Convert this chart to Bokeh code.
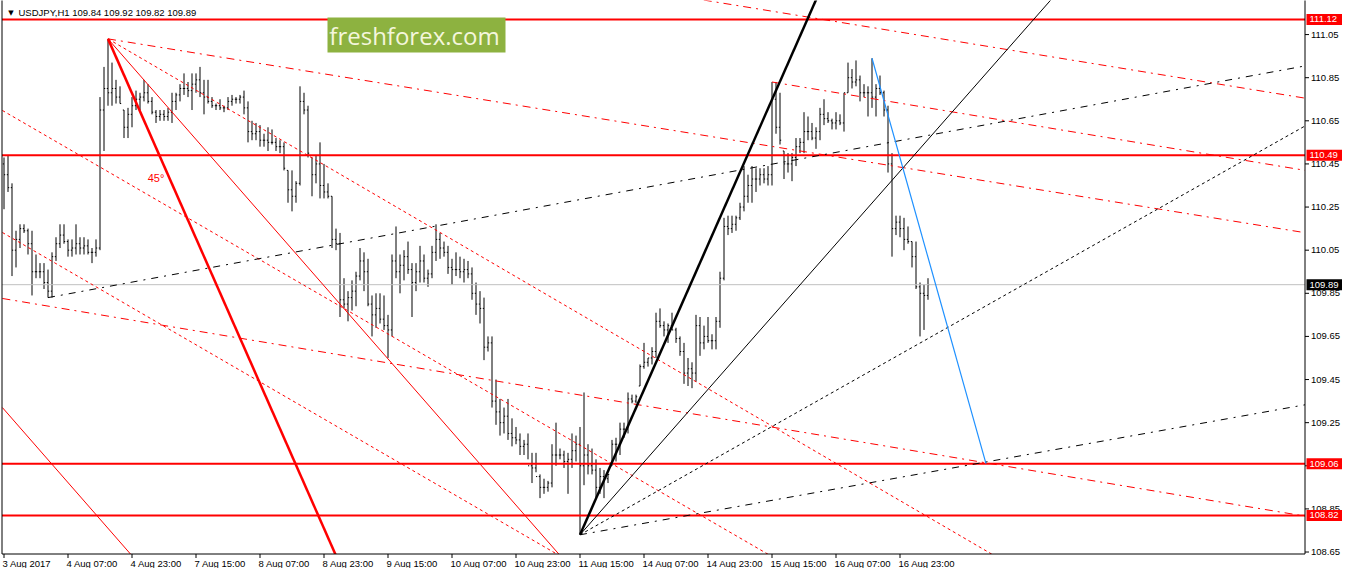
from bokeh.plotting import figure
from bokeh.models import Range1d, Label, BoxAnnotation, ColumnDataSource
from bokeh.core.properties import value
from bokeh.embed import file_html
from bokeh.resources import INLINE

# ---------------- data (hourly USDJPY bars, bar index 0 = 3 Aug 15:00) ----------------
highs = [
    110.48, 110.49, 110.36, 110.14, 110.17, 110.17, 110.15, 110.14, 110.03, 109.99, 109.99, 109.96,
    110.04, 110.11, 110.17, 110.17, 110.10, 110.10, 110.17, 110.11, 110.11, 110.10, 110.06, 110.10,
    110.76, 110.90, 111.03, 110.92, 110.84, 110.81, 110.70, 110.71, 110.76, 110.79, 110.78, 110.84,
    110.82, 110.76, 110.70, 110.70, 110.70, 110.71, 110.78, 110.78, 110.82, 110.87, 110.83, 110.87,
    110.87, 110.90, 110.84, 110.84, 110.76, 110.73, 110.75, 110.72, 110.76, 110.77, 110.76, 110.77,
    110.79, 110.74, 110.65, 110.64, 110.63, 110.59, 110.62, 110.61, 110.57, 110.56, 110.55, 110.42,
    110.42, 110.37, 110.81, 110.78, 110.72, 110.48, 110.49, 110.55, 110.45, 110.36, 110.30, 110.15,
    110.13, 109.92, 109.86, 109.91, 109.95, 110.06, 110.04, 110.01, 109.84, 109.85, 109.85, 109.84,
    109.75, 110.03, 110.16, 110.03, 110.05, 110.09, 109.99, 109.99, 110.07, 110.03, 109.96, 110.07,
    110.17, 110.13, 110.09, 110.07, 110.01, 110.04, 110.02, 110.01, 110.00, 109.97, 109.90, 109.86,
    109.83, 109.65, 109.65, 109.45, 109.36, 109.32, 109.36, 109.27, 109.23, 109.20, 109.17, 109.20,
    109.11, 109.11, 109.01, 108.99, 108.98, 109.15, 109.25, 109.13, 109.12, 109.11, 109.20, 109.19,
    109.23, 109.39, 109.15, 109.13, 109.08, 109.04, 109.03, 109.01, 109.17, 109.18, 109.25, 109.25,
    109.39, 109.38, 109.38, 109.52, 109.62, 109.55, 109.60, 109.76, 109.78, 109.72, 109.71, 109.76,
    109.69, 109.65, 109.62, 109.55, 109.53, 109.75, 109.74, 109.70, 109.74, 109.66, 109.74, 109.95,
    110.20, 110.21, 110.21, 110.21, 110.27, 110.44, 110.40, 110.44, 110.43, 110.43, 110.43, 110.44,
    110.83, 110.83, 110.78, 110.51, 110.50, 110.50, 110.57, 110.57, 110.69, 110.67, 110.64, 110.62,
    110.71, 110.75, 110.69, 110.66, 110.69, 110.68, 110.78, 110.92, 110.89, 110.93, 110.86, 110.82,
    110.81, 110.94, 110.82, 110.86, 110.79, 110.72, 110.50, 110.21, 110.21, 110.20, 110.16, 110.09,
    110.09, 109.90, 109.89, 109.92,
]
lows = [
    110.24, 110.32, 109.93, 109.97, 110.06, 110.13, 110.03, 109.84, 109.92, 109.92, 109.87, 109.83,
    109.83, 110.00, 110.06, 110.08, 110.02, 110.02, 110.03, 110.03, 110.03, 110.03, 109.99, 110.02,
    110.05, 110.51, 110.72, 110.72, 110.73, 110.73, 110.57, 110.57, 110.62, 110.70, 110.70, 110.74,
    110.73, 110.68, 110.64, 110.65, 110.65, 110.65, 110.64, 110.70, 110.74, 110.77, 110.76, 110.70,
    110.78, 110.76, 110.68, 110.73, 110.71, 110.70, 110.70, 110.69, 110.70, 110.72, 110.73, 110.73,
    110.68, 110.55, 110.56, 110.56, 110.53, 110.53, 110.51, 110.54, 110.51, 110.50, 110.42, 110.27,
    110.23, 110.27, 110.35, 110.68, 110.48, 110.30, 110.36, 110.29, 110.29, 110.29, 110.06, 110.05,
    109.74, 109.78, 109.72, 109.77, 109.79, 109.91, 109.86, 109.79, 109.65, 109.69, 109.71, 109.68,
    109.55, 109.65, 109.92, 109.85, 109.91, 109.94, 109.74, 109.86, 109.90, 109.90, 109.88, 109.92,
    110.00, 110.01, 110.02, 109.94, 109.89, 109.93, 109.92, 109.90, 109.92, 109.82, 109.75, 109.71,
    109.54, 109.58, 109.32, 109.24, 109.19, 109.20, 109.17, 109.14, 109.15, 109.10, 109.10, 109.08,
    108.97, 109.02, 108.90, 108.92, 108.93, 108.95, 109.05, 109.08, 109.04, 108.92, 109.04, 109.07,
    108.73, 108.96, 109.01, 109.01, 108.90, 108.92, 108.90, 108.97, 109.05, 109.07, 109.10, 109.18,
    109.20, 109.34, 109.34, 109.42, 109.50, 109.51, 109.52, 109.55, 109.69, 109.65, 109.62, 109.68,
    109.62, 109.56, 109.43, 109.42, 109.41, 109.44, 109.56, 109.59, 109.62, 109.59, 109.59, 109.69,
    109.91, 110.12, 110.13, 110.14, 110.19, 110.23, 110.27, 110.27, 110.32, 110.35, 110.36, 110.35,
    110.35, 110.59, 110.54, 110.38, 110.41, 110.37, 110.44, 110.50, 110.50, 110.56, 110.56, 110.52,
    110.56, 110.63, 110.64, 110.61, 110.61, 110.63, 110.60, 110.78, 110.80, 110.81, 110.74, 110.76,
    110.67, 110.71, 110.67, 110.77, 110.67, 110.41, 110.02, 110.12, 110.11, 110.05, 110.08, 109.97,
    109.87, 109.65, 109.68, 109.82,
]
closes = [
    110.40, 110.34, 110.05, 110.10, 110.15, 110.14, 110.08, 109.95, 109.95, 109.95, 109.90, 109.86,
    110.02, 110.08, 110.12, 110.09, 110.05, 110.06, 110.08, 110.06, 110.07, 110.04, 110.04, 110.06,
    110.70, 110.80, 110.78, 110.80, 110.76, 110.73, 110.62, 110.68, 110.72, 110.75, 110.76, 110.78,
    110.74, 110.69, 110.67, 110.68, 110.67, 110.69, 110.74, 110.77, 110.80, 110.80, 110.79, 110.82,
    110.84, 110.78, 110.76, 110.74, 110.72, 110.72, 110.71, 110.71, 110.74, 110.75, 110.75, 110.76,
    110.71, 110.60, 110.59, 110.60, 110.56, 110.56, 110.55, 110.55, 110.53, 110.53, 110.43, 110.33,
    110.30, 110.36, 110.74, 110.70, 110.50, 110.40, 110.45, 110.35, 110.32, 110.30, 110.10, 110.08,
    109.82, 109.80, 109.83, 109.86, 109.93, 110.00, 109.95, 109.80, 109.75, 109.78, 109.73, 109.70,
    109.68, 110.00, 109.95, 109.98, 110.02, 109.96, 109.90, 109.95, 110.00, 109.92, 109.94, 110.04,
    110.10, 110.06, 110.04, 109.97, 109.96, 109.96, 109.95, 109.96, 109.94, 109.85, 109.80, 109.78,
    109.60, 109.62, 109.35, 109.30, 109.25, 109.28, 109.20, 109.18, 109.17, 109.14, 109.15, 109.05,
    109.04, 109.00, 108.95, 108.95, 108.97, 109.10, 109.10, 109.10, 109.07, 109.08, 109.12, 109.15,
    109.05, 109.10, 109.05, 109.03, 108.95, 109.00, 108.99, 109.01, 109.15, 109.15, 109.22, 109.22,
    109.36, 109.35, 109.37, 109.51, 109.53, 109.55, 109.58, 109.72, 109.70, 109.68, 109.70, 109.68,
    109.64, 109.58, 109.48, 109.50, 109.48, 109.70, 109.62, 109.65, 109.63, 109.63, 109.72, 109.92,
    110.16, 110.15, 110.17, 110.20, 110.25, 110.30, 110.35, 110.38, 110.38, 110.40, 110.38, 110.40,
    110.75, 110.62, 110.56, 110.45, 110.45, 110.48, 110.53, 110.55, 110.60, 110.60, 110.57, 110.60,
    110.68, 110.66, 110.65, 110.64, 110.65, 110.64, 110.78, 110.85, 110.83, 110.84, 110.78, 110.78,
    110.78, 110.76, 110.80, 110.78, 110.70, 110.45, 110.15, 110.18, 110.15, 110.10, 110.09, 110.02,
    109.88, 109.85, 109.84, 109.89,
]
first_open = 110.45

tick_bars = [0, 16, 32, 48, 64, 80, 96, 112, 128, 144, 160, 176, 192, 208, 224]
tick_labels = ["3 Aug 2017", "4 Aug 07:00", "4 Aug 23:00", "7 Aug 15:00", "8 Aug 07:00",
               "8 Aug 23:00", "9 Aug 15:00", "10 Aug 07:00", "10 Aug 23:00", "11 Aug 15:00",
               "14 Aug 07:00", "14 Aug 23:00", "15 Aug 15:00", "16 Aug 07:00", "16 Aug 23:00"]
price_ticks = [108.65, 108.85, 109.05, 109.25, 109.45, 109.65, 109.85,
               110.05, 110.25, 110.45, 110.65, 110.85, 111.05]

levels = [111.12, 110.49, 109.06, 108.82]
bid = 109.89
header = "USDJPY,H1  109.84 109.92 109.82 109.89"

# trend lines: (bar indices, prices)
gann_45 = ([26, 86], [111.03, 108.507])
red_thin = ([26, 145], [111.03, 108.507])
red_thin_par = ([-0.4, 36], [109.32, 108.548])
red_dot_peak = ([26, 260], [111.03, 108.499])
red_dash_peak = ([26, 328.6], [111.03, 110.121])
red_dash_hi = ([192, 328.6], [110.83, 110.41])
red_dash_top = ([170, 328.6], [111.225, 110.745])
red_dot_a = ([-0.4, 204], [110.698, 108.50])
red_dot_b = ([-0.4, 151], [110.132, 108.503])
red_dash_low = ([-0.4, 328.6], [109.826, 108.806])
blk_thick = ([144, 204], [108.73, 111.253])
blk_thin = ([144, 264], [108.73, 111.259])
blk_dot = ([144, 328.6], [108.73, 110.661])
blk_dashdot = ([144, 328.6], [108.73, 109.344])
blk_dash = ([11, 328.6], [109.83, 110.916])
blue_line = ([217, 245.5], [110.94, 109.06])
gann_label_pos = (38, 110.387)

# ---------------- layout constants ----------------
W, H = 1342, 568
BAR0_PX, BAR_PX = 3.5, 4.0          # pixel of bar 0, pixels per bar
TOP_PRICE, PX_PER_PRICE = 111.208, 215.61


def bx(px):
    return (px - BAR0_PX) / BAR_PX


def py(px):
    return TOP_PRICE - px / PX_PER_PRICE


EDGE_X = bx(1304.5)     # right border of the chart area (price scale line)
EDGE_Y = py(553.5)      # bottom border of the chart area (time scale line)
LEFT_X = bx(1.5)
FONT = "Liberation Sans"
RED = "#FF0000"

p = figure(width=W, height=H, x_range=Range1d(bx(0), bx(W)), y_range=Range1d(py(H), py(0)),
           output_backend="svg", toolbar_location=None,
           x_axis_location=None, y_axis_location=None,
           min_border_left=0, min_border_right=0, min_border_top=0, min_border_bottom=0)
p.outline_line_color = None
p.grid.visible = False
p.background_fill_color = "white"
p.border_fill_color = "white"

# ---------------- bars ----------------
n = len(highs)
idx = list(range(n))
opens = [first_open] + [min(max(closes[i - 1], lows[i]), highs[i]) for i in range(1, n)]
src = ColumnDataSource(dict(x=idx, xl=[i - 0.3 for i in idx], xr=[i + 0.3 for i in idx],
                            o=opens, h=highs, l=lows, c=closes))
p.segment(x0="x", y0="l", x1="x", y1="h", source=src, line_color="black", line_width=1)
p.segment(x0="xl", y0="o", x1="x", y1="o", source=src, line_color="black", line_width=1)
p.segment(x0="x", y0="c", x1="xr", y1="c", source=src, line_color="black", line_width=1)

# ---------------- horizontal levels ----------------
p.segment(x0=[LEFT_X], y0=[bid], x1=[EDGE_X], y1=[bid], line_color="#C0C0C0", line_width=1)
p.segment(x0=[LEFT_X] * len(levels), y0=levels, x1=[EDGE_X] * len(levels), y1=levels,
          line_color=RED, line_width=2)


def seg(ln, color, width, dash="solid"):
    p.line(ln[0], ln[1], line_color=color, line_width=width, line_dash=dash)


seg(gann_45, RED, 2.5)
seg(red_thin, RED, 1)
seg(red_thin_par, RED, 1)
seg(red_dot_peak, RED, 1, "3 3")
seg(red_dot_a, RED, 1, "3 3")
seg(red_dot_b, RED, 1, "3 3")
seg(red_dash_peak, RED, 1, "8 5 2 5")
seg(red_dash_hi, RED, 1, "8 5 2 5")
seg(red_dash_top, RED, 1, "8 5 2 5")
seg(red_dash_low, RED, 1, "8 5 2 5")
seg(blk_thick, "black", 2.5)
seg(blk_thin, "black", 1)
seg(blk_dot, "black", 1, "3 3")
seg(blk_dashdot, "black", 1, "7 6 2 6")
seg(blk_dash, "black", 1, "7 6 2 6")
seg(blue_line, "#1E90FF", 1.2)

# ---------------- scale areas (white) ----------------
p.add_layout(BoxAnnotation(left=EDGE_X, fill_color="white", fill_alpha=1.0, line_color=None))
p.add_layout(BoxAnnotation(top=EDGE_Y, fill_color="white", fill_alpha=1.0, line_color=None))

p.add_layout(Label(x=gann_label_pos[0], y=gann_label_pos[1], text="45°", text_color=RED,
                   text_font=FONT, text_font_size="11px", text_align="center",
                   text_baseline="middle"))

# header
p.add_layout(Label(x=10.5, y=H - 12, x_units="screen", y_units="screen", text="▼",
                   text_font="DejaVu Sans", text_font_size="7px", text_align="center",
                   text_baseline="middle", text_color="black"))
p.add_layout(Label(x=18, y=H - 12, x_units="screen", y_units="screen", text=header,
                   text_font=FONT, text_font_size="9.5px", text_align="left",
                   text_baseline="middle", text_color="black"))

# logo
p.add_layout(BoxAnnotation(left=327, right=505, bottom=H - 52, top=H - 17,
                           left_units="screen", right_units="screen",
                           bottom_units="screen", top_units="screen",
                           fill_color="#8DB240", fill_alpha=1.0, line_color=None))
p.add_layout(Label(x=414, y=H - 35, x_units="screen", y_units="screen",
                   text="freshforex.com", text_font="Open Sans", text_font_size="24px",
                   text_align="center", text_baseline="middle", text_color="#F4F6DC"))

# ---------------- price scale & time scale (drawn over the white scale areas) ----------------
top = py(0)
p.segment(x0=[LEFT_X, EDGE_X, LEFT_X], y0=[EDGE_Y, EDGE_Y, EDGE_Y],
          x1=[LEFT_X, EDGE_X, EDGE_X], y1=[top, top, EDGE_Y],
          line_color="black", line_width=1, level="overlay")
# ticks
p.segment(x0=[EDGE_X] * len(price_ticks), y0=price_ticks,
          x1=[EDGE_X + 4 / BAR_PX] * len(price_ticks), y1=price_ticks,
          line_color="black", line_width=1, level="overlay")
p.segment(x0=tick_bars, y0=[EDGE_Y] * len(tick_bars),
          x1=tick_bars, y1=[EDGE_Y - 4 / PX_PER_PRICE] * len(tick_bars),
          line_color="black", line_width=1, level="overlay")
# tick labels
p.text(x=[EDGE_X + 6 / BAR_PX] * len(price_ticks), y=price_ticks,
       text=[f"{v:.2f}" for v in price_ticks], text_font=value(FONT),
       text_font_size=value("9.5px"), text_color="black", text_align="left",
       text_baseline="middle", level="overlay")
p.text(x=[t - 1.5 / BAR_PX for t in tick_bars], y=[EDGE_Y - 9 / PX_PER_PRICE] * len(tick_bars),
       text=tick_labels, text_font=value(FONT), text_font_size=value("9.5px"),
       text_color="black", text_align="left", text_baseline="middle", level="overlay")

# price tags
tag_prices = levels + [bid]
tag_colors = [RED] * len(levels) + ["black"]
half = 5.5 / PX_PER_PRICE
p.quad(left=[EDGE_X + 1.5 / BAR_PX] * len(tag_prices), right=[bx(W)] * len(tag_prices),
       top=[v + half for v in tag_prices], bottom=[v - half for v in tag_prices],
       fill_color=tag_colors, line_color=None, level="overlay")
p.text(x=[EDGE_X + 4.5 / BAR_PX] * len(tag_prices), y=tag_prices,
       text=[f"{v:.2f}" for v in tag_prices], text_font=value(FONT),
       text_font_size=value("9.5px"), text_color="white", text_align="left",
       text_baseline="middle", level="overlay")

open("out.html", "w").write(file_html(p, INLINE))
